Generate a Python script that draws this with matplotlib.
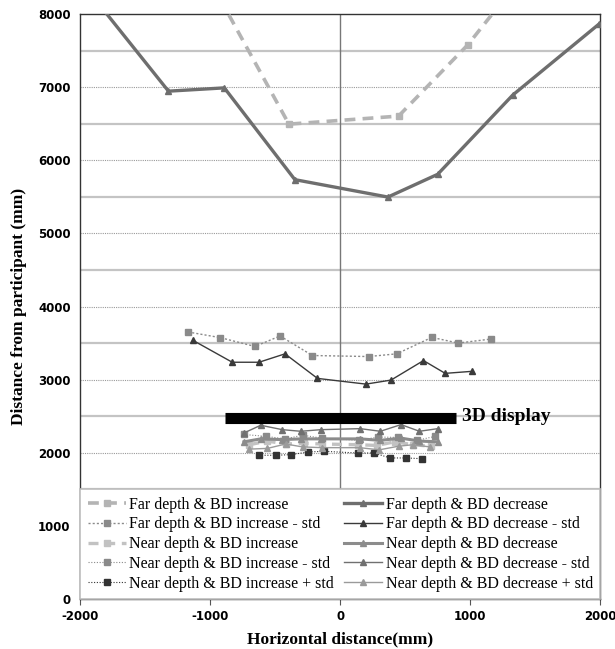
import numpy as np
import matplotlib
matplotlib.use('Agg')
import matplotlib.pyplot as plt

plt.rcParams['axes.unicode_minus'] = False

# Far depth (mean and - std)
far_inc_x = [-1000, -395, 449, 982, 1300]
far_inc_y = [8450, 6494, 6604, 7579, 8290]
far_dec_x = [-1900, -1322, -892, -349, 367, 750, 1328, 1990]
far_dec_y = [8230, 6945, 6990, 5735, 5497, 5808, 6892, 7860]

far_inc_std_x = [-1171, -922, -656, -463, -214, 219, 435, 705, 909, 1158]
far_inc_std_y = [3652, 3574, 3454, 3597, 3330, 3316, 3353, 3578, 3500, 3555]
far_dec_std_x = [-1133, -831, -625, -425, -175, 198, 391, 641, 808, 1017]
far_dec_std_y = [3537, 3238, 3238, 3353, 3017, 2939, 2994, 3261, 3086, 3114]

# Near depth
near_inc_x = [-700, -560, -420, -280, -140, 140, 280, 420, 560, 700]
near_inc_y = [2110, 2160, 2120, 2130, 2120, 2110, 2100, 2150, 2110, 2090]
near_dec_x = [-741, -612, -445, -304, -149, 154, 309, 468, 610, 751]
near_dec_y = [2150, 2190, 2180, 2190, 2190, 2190, 2170, 2200, 2160, 2150]

near_inc_std_x = [-741, -574, -425, -290, -140, 145, 290, 443, 590, 733]
near_inc_std_y = [2250, 2225, 2190, 2240, 2200, 2170, 2215, 2210, 2170, 2225]
near_dec_std_x = [-741, -612, -445, -304, -149, 154, 309, 468, 610, 751]
near_dec_std_y = [2271, 2376, 2316, 2294, 2316, 2330, 2294, 2385, 2294, 2330]

near_inc_pstd_x = [-625, -497, -381, -247, -124, 134, 257, 386, 507, 628]
near_inc_pstd_y = [1966, 1966, 1974, 2011, 2020, 1997, 1997, 1929, 1929, 1919]
near_dec_pstd_x = [-700, -560, -420, -290, -140, 150, 300, 450, 560, 690]
near_dec_pstd_y = [2050, 2060, 2120, 2080, 2070, 2070, 2040, 2090, 2110, 2080]

display_x = [-890, 890]
display_y = 2470

fig = plt.figure(figsize=(6.15, 6.49), dpi=100)
ax = fig.add_axes([0.1307, 0.077, 0.845, 0.9014])

# grid: dotted at thousands, solid light at halves
for y in range(1000, 8000, 1000):
    ax.axhline(y, color='#9a9a9a', lw=0.8, ls=(0, (1, 1)), zorder=1)
for y in range(500, 8000, 1000):
    ax.axhline(y, color='#c4c4c4', lw=1.6, zorder=1)
ax.axvline(0, color='#777777', lw=1.0, zorder=1)

ax.plot(far_inc_x, far_inc_y, color='#b4b4b4', lw=2.6, ls=(0, (3, 2)),
        marker='s', ms=4, label='Far depth & BD increase', zorder=3)
ax.plot(far_dec_x, far_dec_y, color='#6e6e6e', lw=2.4,
        marker='^', ms=4, label='Far depth & BD decrease', zorder=3)
ax.plot(far_inc_std_x, far_inc_std_y, color='#8a8a8a', lw=1.0, ls=(0, (1.5, 1.5)),
        marker='s', ms=4.5, label='Far depth & BD increase - std', zorder=3)
ax.plot(far_dec_std_x, far_dec_std_y, color='#3a3a3a', lw=1.0,
        marker='^', ms=4.5, label='Far depth & BD decrease - std', zorder=3)
ax.plot(near_inc_x, near_inc_y, color='#c2c2c2', lw=2.4, ls=(0, (3, 2)),
        marker='s', ms=4.5, label='Near depth & BD increase', zorder=3)
ax.plot(near_dec_x, near_dec_y, color='#8c8c8c', lw=2.2,
        marker='^', ms=4.5, label='Near depth & BD decrease', zorder=3)
ax.plot(near_inc_std_x, near_inc_std_y, color='#8a8a8a', lw=0.8, ls=(0, (1, 1.5)),
        marker='s', ms=4.5, label='Near depth & BD increase - std', zorder=3)
ax.plot(near_dec_std_x, near_dec_std_y, color='#707070', lw=1.0,
        marker='^', ms=4.5, label='Near depth & BD decrease - std', zorder=3)
ax.plot(near_inc_pstd_x, near_inc_pstd_y, color='#333333', lw=0.8, ls=(0, (1, 1.5)),
        marker='s', ms=5, label='Near depth & BD increase + std', zorder=3)
ax.plot(near_dec_pstd_x, near_dec_pstd_y, color='#9a9a9a', lw=1.0,
        marker='^', ms=4.5, label='Near depth & BD decrease + std', zorder=3)

# display bar
ax.plot(display_x, [display_y, display_y], color='black', lw=8,
        solid_capstyle='butt', zorder=4)
ax.text(display_x[1] + 45, display_y + 20, '3D display', fontsize=14,
        fontweight='bold', family='Liberation Serif', va='center', ha='left', zorder=4)

ax.set_xlim(-2000, 2000)
ax.set_ylim(0, 8000)
ax.set_xticks(range(-2000, 2001, 1000))
ax.set_yticks(range(0, 8001, 1000))
for lab in ax.get_xticklabels() + ax.get_yticklabels():
    lab.set_fontweight('bold')
    lab.set_fontsize(8.5)
ax.tick_params(axis='y', length=0, pad=7)
ax.tick_params(axis='x', length=4, direction='out', pad=4, color='#555555')
for sp in ax.spines.values():
    sp.set_color('#333333')
    sp.set_linewidth(1.0)

ax.set_xlabel('Horizontal distance(mm)', family='Liberation Serif',
              fontweight='bold', fontsize=12.5, labelpad=6)
ax.set_ylabel('Distance from participant (mm)', family='Liberation Serif',
              fontweight='bold', fontsize=12.5, labelpad=8)

# legend order: left column increase, right column decrease
handles, labels = ax.get_legend_handles_labels()
order = [0, 2, 4, 6, 8, 1, 3, 5, 7, 9]
leg = ax.legend([handles[i] for i in order], [labels[i] for i in order],
                ncol=2, loc='upper left', mode='expand',
                bbox_to_anchor=(0, 80 / 8000, 1, 1420 / 8000),
                borderaxespad=0, fancybox=False, framealpha=1,
                edgecolor='#bdbdbd', numpoints=1, handlelength=2.4,
                handletextpad=0.2, labelspacing=0.24, borderpad=0.45,
                columnspacing=0.5, prop={'family': 'Liberation Serif', 'size': 11.5})
leg.get_frame().set_linewidth(1.2)
leg.set_zorder(6)

plt.savefig('out.png', dpi=100)
